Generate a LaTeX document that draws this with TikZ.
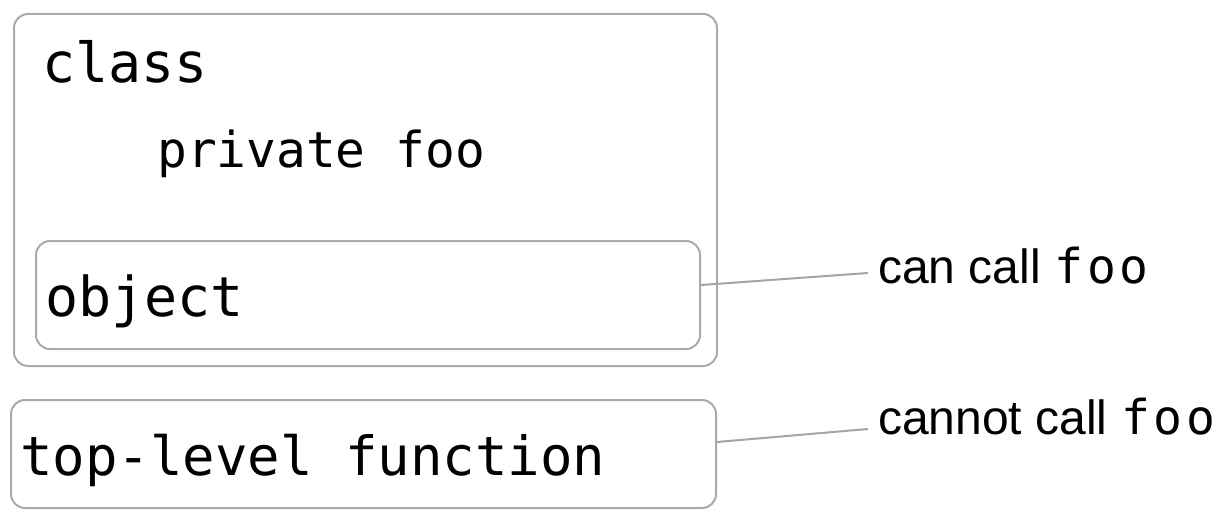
\documentclass[tikz,border=0pt]{standalone}
\usepackage{fontspec}
\setmainfont{Liberation Sans}
\setmonofont{DejaVu Sans Mono}
\newfontfamily\labmono[LetterSpace=8]{DejaVu Sans Mono}
\begin{document}
\begin{tikzpicture}[x=1pt,y=-1pt,
  box/.style={draw=boxgray, line width=2pt, rounded corners=14pt, inner sep=0pt},
  code/.style={anchor=base west, inner sep=0pt, font=\fontsize{55}{60}\selectfont\ttfamily},
  longcode/.style={anchor=base west, inner sep=0pt, font=\fontsize{54}{60}\selectfont\ttfamily},
  smallcode/.style={anchor=base west, inner sep=0pt, font=\fontsize{49.5}{54}\selectfont\ttfamily},
  lab/.style={anchor=base west, inner sep=0pt, font=\fontsize{48}{52}\selectfont},
  link/.style={draw=linegray, line width=2pt}]
\definecolor{boxgray}{RGB}{170,170,170}
\definecolor{linegray}{RGB}{165,165,165}
\useasboundingbox (0,0) rectangle (1229,511);
\node[box, minimum width=703pt, minimum height=352pt] (cls) at (365.5,190) {};
\node[box, minimum width=664pt, minimum height=108pt] (obj) at (368,295) {};
\node[box, minimum width=705pt, minimum height=108pt] (top) at (363.5,454) {};
\node[code] (tcls) at (42,82) {class};
\node[smallcode] (tpriv) at (157,167) {private foo};
\node[code] (tobj) at (45,316) {object};
\node[longcode] (ttop) at (20,475) {top-level function};
\node[lab] (lab1) at (878,283) {can call {\labmono foo}};
\node[lab] (lab2) at (878,434) {cannot call {\labmono foo}};
\coordinate (a1) at ([yshift=10pt]obj.east);
\coordinate (b1) at ([xshift=-10pt,yshift=10pt]lab1.base west);
\coordinate (a2) at ([yshift=12pt]top.east);
\coordinate (b2) at ([xshift=-10pt,yshift=5pt]lab2.base west);
\draw[link] (a1) -- (b1);
\draw[link] (a2) -- (b2);
\end{tikzpicture}
\end{document}
